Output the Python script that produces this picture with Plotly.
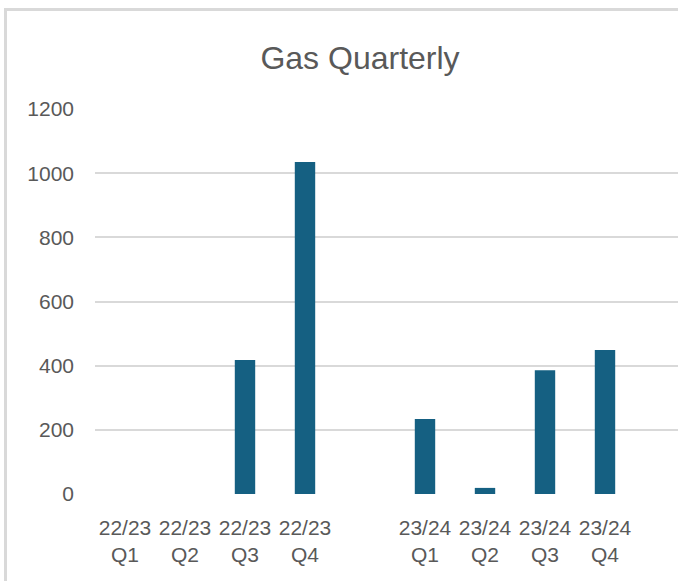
import plotly.graph_objects as go

categories = ["22/23<br>Q1", "22/23<br>Q2", "22/23<br>Q3", "22/23<br>Q4", " ",
              "23/24<br>Q1", "23/24<br>Q2", "23/24<br>Q3", "23/24<br>Q4"]
values = [0, 0, 418, 1035, None, 234, 19, 386, 449]
y_ticks = [0, 200, 400, 600, 800, 1000, 1200]

W, H = 678, 581
L, R, T, B = 95, 0, 109, 87
pw = W - L - R
ph = H - T - B

fig = go.Figure(go.Bar(x=categories, y=values, marker=dict(color="#156082", line=dict(width=0)),
                       width=0.34))

def px2paperx(px):
    return (px - L) / pw

def px2papery(py):
    return (H - B - py) / ph

fig.update_layout(
    width=W, height=H,
    margin=dict(l=L, r=R, t=T, b=B, pad=0),
    paper_bgcolor="white", plot_bgcolor="white",
    font=dict(family="Liberation Sans, Arial, sans-serif", color="#595959", size=21),
    title=dict(text="Gas Quarterly", x=px2paperx(360), xref="paper", xanchor="center",
               y=1 - 58 / H, yref="container", yanchor="middle",
               font=dict(size=32, color="#595959")),
    showlegend=False,
    bargap=0.66,
    shapes=[
        dict(type="line", xref="paper", yref="paper", x0=px2paperx(5.5), x1=px2paperx(5.5),
             y0=px2papery(9.5), y1=px2papery(H + 5), line=dict(color="#d9d9d9", width=3)),
        dict(type="line", xref="paper", yref="paper", x0=px2paperx(4), x1=px2paperx(W + 5),
             y0=px2papery(9.5), y1=px2papery(9.5), line=dict(color="#d9d9d9", width=3)),
    ],
)
fig.update_xaxes(type="category", categoryorder="array", categoryarray=categories,
                 range=[-0.5, -0.5 + pw / 60.0], showgrid=False, zeroline=False,
                 showline=False, ticks="", tickangle=0, ticklabelstandoff=19,
                 tickfont=dict(size=21, color="#595959"))
fig.update_yaxes(range=[0, 1200], tickvals=y_ticks, ticktext=[str(v) for v in y_ticks],
                 showgrid=True, gridcolor="#d9d9d9", gridwidth=2, zeroline=False,
                 showline=False, ticks="", ticklabelstandoff=20,
                 tickfont=dict(size=21, color="#595959"))

fig.write_html("out.html",
               config={"displayModeBar": False, "staticPlot": True},
               post_script=("document.documentElement.style.overflow='hidden';"
                            "document.body.style.margin='0';"
                            "document.body.style.overflow='hidden';"))
